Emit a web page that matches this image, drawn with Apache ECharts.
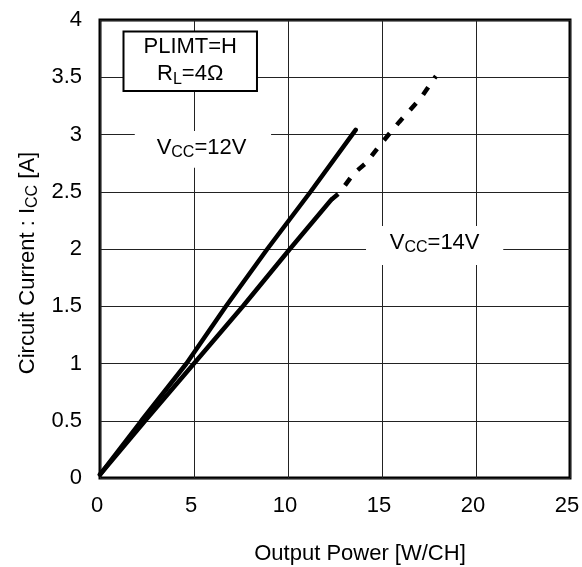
<!DOCTYPE html>
<html>
<head>
<meta charset="utf-8">
<script src="https://cdn.jsdelivr.net/npm/echarts@6/dist/echarts.min.js"></script>
<style>
html,body{margin:0;padding:0;background:#fff;}
#main{width:582px;height:567px;}
</style>
</head>
<body>
<div id="main"></div>
<script>
// ---- data ----
const xTicks = [0, 5, 10, 15, 20, 25];
const yTicks = [0, 0.5, 1, 1.5, 2, 2.5, 3, 3.5, 4];
const vcc12 = [[0, 0.03], [2.2, 0.5], [4.6, 1.0], [6.7, 1.5], [8.9, 2.0], [11.2, 2.5], [13.6, 3.04]];
const vcc14Solid = [[0, 0.03], [2.4, 0.5], [5.0, 1.0], [7.6, 1.5], [10.1, 2.0], [12.3, 2.43]];
const vcc14Dashed = [[12.3, 2.43], [12.74, 2.49], [13.5, 2.66], [14.15, 2.75], [14.95, 2.92], [15.92, 3.11], [17.07, 3.32], [17.87, 3.51]];
// annotation anchors (data coords)
const label12 = { x: 5.4, y: 2.89, box: [[1.85, 3.03], [9.1, 2.71]] };
const label14 = { x: 17.8, y: 2.06, box: [[14.15, 2.2], [21.45, 1.86]] };
const condBox = [[1.25, 3.9], [8.35, 3.38]];
const condLines = [{ x: 4.8, y: 3.77 }, { x: 4.8, y: 3.53 }];

const FONT = "'Liberation Sans', Arial, sans-serif";
const FS = 22, FSS = 16;
const chart = echarts.init(document.getElementById('main'), null, { renderer: 'canvas' });

const richSub = {
  n: { fontSize: FS, fontFamily: FONT, color: '#000', verticalAlign: 'bottom', lineHeight: 27, padding: [0, 0, 2, 0] },
  s: { fontSize: FSS, fontFamily: FONT, color: '#000', verticalAlign: 'bottom', lineHeight: 27 }
};

const option = {
  animation: false,
  backgroundColor: '#fff',
  grid: { left: 100, right: 12, top: 20, bottom: 89, containLabel: false, outerBoundsMode: 'none', show: true, borderColor: '#000', borderWidth: 3, backgroundColor: 'transparent' },
  xAxis: {
    type: 'value', min: xTicks[0], max: xTicks[xTicks.length - 1], interval: 5,
    axisLine: { show: false }, axisTick: { show: false },
    splitLine: { show: true, lineStyle: { color: '#222', width: 1 } },
    axisLabel: { color: '#000', fontSize: FS, fontFamily: FONT, margin: 17, padding: [0, 6, 0, 0] },
    name: 'Output Power [W/CH]', nameLocation: 'middle', nameGap: 65,
    nameTextStyle: { color: '#000', fontSize: FS, fontFamily: FONT, padding: [0, 0, 0, 50] }
  },
  yAxis: {
    type: 'value', min: yTicks[0], max: yTicks[yTicks.length - 1], interval: 0.5,
    axisLine: { show: false }, axisTick: { show: false },
    splitLine: { show: true, lineStyle: { color: '#222', width: 1 } },
    axisLabel: { color: '#000', fontSize: FS, fontFamily: FONT, margin: 18 },
    name: '{n|Circuit Current : I}{s|CC}{n| [A]}', nameLocation: 'middle', nameGap: 57,
    nameTextStyle: { color: '#000', fontSize: FS, fontFamily: FONT, padding: [0, 28, 0, 0], rich: richSub }
  },
  series: [
    { name: 'Vcc12', type: 'line', data: vcc12, symbol: 'none', z: 5, lineStyle: { color: '#000', width: 4.5, cap: 'round' } },
    { name: 'Vcc14', type: 'line', data: vcc14Solid, symbol: 'none', z: 5, lineStyle: { color: '#000', width: 4.5, cap: 'round' } },
    { name: 'Vcc14ext', type: 'line', data: vcc14Dashed, symbol: 'none', z: 5, lineStyle: { color: '#000', width: 4.5, type: [9, 11] } }
  ]
};
chart.setOption(option);

function px(p) { return chart.convertToPixel({ gridIndex: 0 }, p); }
function rectFrom(b) {
  const a = px(b[0]), c = px(b[1]);
  return { x: a[0], y: a[1], width: c[0] - a[0], height: c[1] - a[1] };
}
function labelText(lbl, text) {
  const p = px([lbl.x, lbl.y]);
  return { type: 'text', x: p[0], y: p[1], z: 20, style: { text: text, align: 'center', verticalAlign: 'middle', rich: richSub, fill: '#000' } };
}
const g = [];
g.push({ type: 'rect', shape: rectFrom(label12.box), z: 10, style: { fill: '#fff' } });
g.push({ type: 'rect', shape: rectFrom(label14.box), z: 10, style: { fill: '#fff' } });
g.push(labelText(label12, '{n|V}{s|CC}{n|=12V}'));
g.push(labelText(label14, '{n|V}{s|CC}{n|=14V}'));
g.push({ type: 'rect', shape: rectFrom(condBox), z: 10, style: { fill: '#fff', stroke: '#000', lineWidth: 2 } });
g.push(labelText(condLines[0], '{n|PLIMT=H}'));
g.push(labelText(condLines[1], '{n|R}{s|L}{n|=4Ω}'));
chart.setOption({ graphic: g });
</script>
</body>
</html>
